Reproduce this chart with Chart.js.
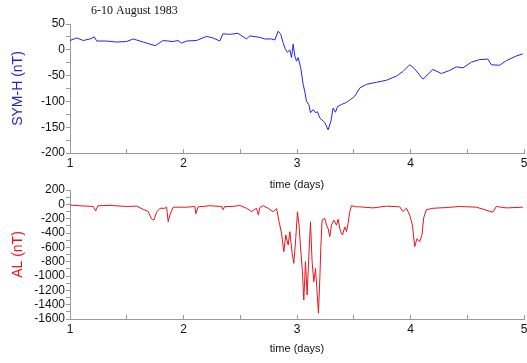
<!DOCTYPE html>
<html>
<head>
<meta charset="utf-8">
<script src="https://cdn.jsdelivr.net/npm/chart.js@4"></script>
<style>
  html, body { margin: 0; padding: 0; background: #fff; }
  #wrap { position: relative; width: 527px; height: 363px; }
  canvas { position: absolute; left: 0; }
  #symChart { top: 0; }
  #alChart { top: 170px; }
</style>
</head>
<body>
<div id="wrap">
  <canvas id="symChart" width="527" height="195"></canvas>
  <canvas id="alChart" width="527" height="189"></canvas>
</div>
<script>
const figureTitle = "6-10 August 1983";

// SYM-H index (nT) vs time (days)
const symTime = [1.000, 1.059, 1.117, 1.176, 1.214, 1.235, 1.323, 1.411, 1.499, 1.557, 1.645, 1.751, 1.821, 1.909, 1.951, 1.983,
  2.027, 2.115, 2.203, 2.259, 2.320, 2.347, 2.408, 2.479, 2.555, 2.585, 2.673, 2.717, 2.776, 2.805, 2.834, 2.857, 2.877, 2.898,
  2.916, 2.937, 2.952, 2.966, 2.981, 2.996, 3.010, 3.033, 3.054, 3.068, 3.084, 3.104, 3.119, 3.142, 3.163, 3.180, 3.201, 3.245,
  3.274, 3.298, 3.318, 3.339, 3.357, 3.392, 3.436, 3.474, 3.509, 3.553, 3.612, 3.700, 3.788, 3.876, 3.934, 3.993, 4.037, 4.110,
  4.198, 4.272, 4.345, 4.404, 4.462, 4.536, 4.609, 4.682, 4.712, 4.785, 4.844, 4.932, 4.990];
const symValue = [18, 23, 18, 21, 25, 17, 17, 15, 16, 21, 15, 8, 18, 16, 18, 13,
  17, 18, 26, 23, 17, 31, 30, 32, 21, 27, 24, 21, 21, 19, 36, 30, 14, 1,
  -5, 0, -15, 11, -12, -22, -15, -35, -67, -80, -100, -106, -122, -116, -122, -120, -132, -141,
  -155, -139, -113, -121, -110, -106, -102, -96, -90, -74, -67, -63, -59, -51, -42, -29, -37, -57,
  -38, -46, -40, -33, -35, -24, -19, -18, -29, -30, -21, -12, -8];

// AL index (nT) vs time (days)
const alTime = [1.000, 1.088, 1.205, 1.226, 1.246, 1.352, 1.499, 1.587, 1.645, 1.689, 1.719, 1.739, 1.763, 1.792, 1.836, 1.851,
  1.865, 1.880, 1.909, 2.027, 2.100, 2.109, 2.129, 2.232, 2.338, 2.349, 2.364, 2.438, 2.496, 2.555, 2.599, 2.643, 2.660, 2.673,
  2.702, 2.746, 2.790, 2.820, 2.842, 2.864, 2.884, 2.901, 2.922, 2.937, 2.957, 2.972, 2.989, 3.004, 3.018, 3.031, 3.048, 3.060,
  3.075, 3.089, 3.104, 3.119, 3.133, 3.148, 3.163, 3.177, 3.189, 3.201, 3.210, 3.221, 3.245, 3.260, 3.274, 3.289, 3.304, 3.324,
  3.348, 3.362, 3.383, 3.401, 3.421, 3.436, 3.450, 3.465, 3.480, 3.524, 3.553, 3.670, 3.788, 3.905, 3.934, 3.964, 3.993, 4.017,
  4.037, 4.057, 4.081, 4.101, 4.116, 4.140, 4.198, 4.316, 4.433, 4.580, 4.726, 4.756, 4.844, 4.990];
const alValue = [-10, -20, -30, -93, -20, -15, -30, -25, -70, -100, -205, -220, -110, -55, -55, -40,
  -243, -150, -40, -40, -30, -130, -35, -20, -30, -75, -30, -30, -15, -55, -100, -55, -150, -45,
  -19, -56, -103, -60, -242, -405, -661, -428, -568, -382, -684, -823, -475, -103, -289, -600, -940, -1335,
  -800, -1265, -730, -243, -800, -1080, -895, -1220, -1520, -1040, -600, -220, -195, -290, -340, -450, -290, -220,
  -290, -210, -380, -428, -315, -380, -270, -103, -19, -35, -35, -50, -25, -35, -100, -55, -150, -290,
  -590, -480, -520, -430, -190, -75, -55, -45, -30, -40, -110, -30, -50, -40];

const axisGray = "#9a9a9a";
const textColor = "#111111";

Chart.defaults.font.family = "'Liberation Sans', Arial, sans-serif";

const titlePlugin = {
  id: "figTitle",
  afterDraw(chart) {
    const ctx = chart.ctx;
    ctx.save();
    ctx.font = "12px 'Liberation Serif', 'Times New Roman', serif";
    ctx.fillStyle = textColor;
    ctx.textBaseline = "middle";
    ctx.fillText(figureTitle, chart.chartArea.left + 21, 11);
    ctx.restore();
  }
};

function panelOptions(o) {
  return {
    responsive: false,
    animation: false,
    layout: { padding: { top: o.top, right: 3, left: 0, bottom: 0 } },
    plugins: { legend: { display: false }, tooltip: { enabled: false } },
    elements: { point: { radius: 0 }, line: { borderWidth: 1, tension: 0 } },
    scales: {
      x: {
        type: "linear", min: 1, max: 5,
        ticks: {
          stepSize: 0.5, padding: 7, color: textColor, font: { size: 12 }, maxRotation: 0, autoSkip: false,
          callback: v => Number.isInteger(v) ? v : ""
        },
        // negative length -> tick marks point up into the plot
        grid: { drawOnChartArea: false, tickLength: -4, color: axisGray },
        border: { color: axisGray },
        title: { display: true, text: "time (days)", color: textColor, font: { size: 11 }, padding: { top: 0, bottom: 3 } },
        afterFit: s => {
          s.height = o.xHeight;
          s.paddingLeft = 0;
          s.paddingRight = 3;
        }
      },
      y: {
        min: o.min, max: o.max,
        ticks: {
          stepSize: o.step, padding: 1, color: textColor, font: { size: 12 }, autoSkip: false,
          callback: v => v % o.labelStep === 0 ? v : ""
        },
        grid: { drawOnChartArea: false, tickLength: 4, color: axisGray },
        border: { color: axisGray },
        title: { display: true, text: o.yTitle, color: o.color, font: { size: 14 }, padding: { top: 10, bottom: 0 } },
        afterFit: s => { s.width = 70; }
      }
    }
  };
}

new Chart(document.getElementById("symChart"), {
  type: "line",
  data: {
    datasets: [{
      label: "SYM-H",
      data: symTime.map((t, i) => ({ x: t, y: symValue[i] })),
      borderColor: "#2323e0"
    }]
  },
  options: panelOptions({ top: 24, xHeight: 42, min: -200, max: 50, step: 25, labelStep: 50, yTitle: "SYM-H (nT)", color: "#2323c8" }),
  plugins: [titlePlugin]
});

new Chart(document.getElementById("alChart"), {
  type: "line",
  data: {
    datasets: [{
      label: "AL",
      data: alTime.map((t, i) => ({ x: t, y: alValue[i] })),
      borderColor: "#e8141c"
    }]
  },
  options: panelOptions({ top: 20, xHeight: 40, min: -1600, max: 200, step: 100, labelStep: 200, yTitle: "AL (nT)", color: "#e8141c" })
});
</script>
</body>
</html>
